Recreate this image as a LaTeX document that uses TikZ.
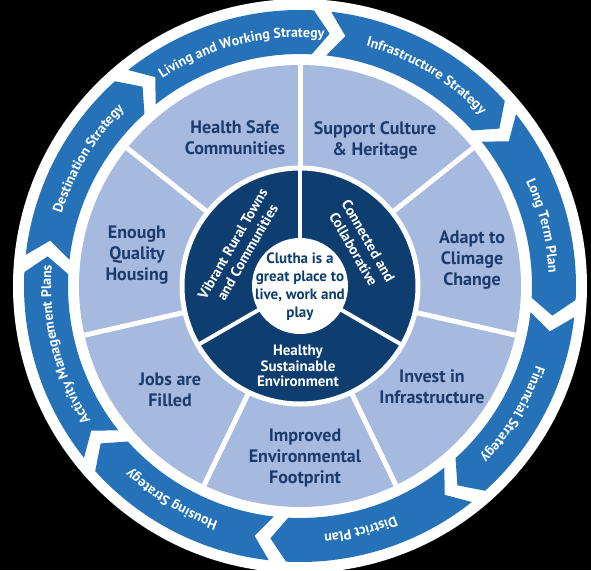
\documentclass[tikz,border=0pt]{standalone}
\usepackage{fontspec}
\setmainfont{PT Sans}
\usepackage{xcolor}
\usepackage{tikz}
\usetikzlibrary{calc, decorations.text}

\definecolor{segfill}{HTML}{A6B9DE}
\definecolor{ringfill}{HTML}{0E3E6F}
\definecolor{arrowfill}{HTML}{2672B9}
\definecolor{navytext}{HTML}{1B3B6C}
\newcommand{\arrowfont}{\color{white}\bfseries\fontsize{14}{16}\selectfont}

\begin{document}
\begin{tikzpicture}[x=1pt, y=1pt,
    segtext/.style={text=navytext, font=\bfseries\fontsize{18}{21}\selectfont, align=center},
    ringtext/.style={text=white, font=\bfseries\fontsize{14.5}{17}\selectfont, align=center},
    centretext/.style={text=ringfill, font=\bfseries\fontsize{15}{18}\selectfont, align=center}]
    \fill[black] (-300,-284) rectangle (291,286);
    \useasboundingbox (-300,-284) rectangle (291,286);
    \fill[white] (0,0) circle (287);

    % vòng mũi tên bên ngoài, chạy theo chiều kim đồng hồ
    \foreach \b/\lbl in {81.5/{Living and Working Strategy}, 36.5/{Infrastructure Strategy},
        -8.5/{Long Term Plan}, -53.5/{Financial Strategy}, -98.5/{District Plan},
        -143.5/{Housing Strategy}, -188.5/{Activity Management Plans}, 126.5/{Destination Strategy}}
    {
        \fill[arrowfill] ({\b+47}:276) arc[start angle=\b+47, end angle=\b+5.6, radius=276]
            -- ({\b+1.8}:254) -- ({\b+5.6}:232)
            arc[start angle=\b+5.6, end angle=\b+47, radius=232]
            -- ({\b+43.2}:254) -- cycle;
        \path[decorate, decoration={text along path, text align=center,
                text/.expanded={|\noexpand\arrowfont|\lbl}}]
            ({\b+42}:249) arc[start angle=\b+42, end angle=\b+3, radius=249];
    }

    % bảy ô màu nhạt
    \fill[segfill] (0,0) circle (221);
    \foreach \a in {0,...,6}
        \draw[white, line width=5] (0,0) -- ({90+\a*360/7}:221);
    \filldraw[fill=ringfill, draw=white, line width=5] (0,0) circle (118);
    \foreach \a in {90,210,330}
        \draw[white, line width=4] (0,0) -- (\a:118);
    \fill[white] (0,0) circle (48);

    \node[segtext] (health) at (-65,148) {Health Safe\\Communities};
    \node[segtext] (culture) at (75,146) {Support Culture\\\& Heritage};
    \node[segtext] (climate) at (172,26) {Adapt to\\Climage\\Change};
    \node[segtext] (housing) at (-163,31) {Enough\\Quality\\Housing};
    \node[segtext] (jobs) at (-130,-104) {Jobs are\\Filled};
    \node[segtext] (invest) at (132,-101) {Invest in\\Infrastructure};
    \node[segtext] (footprint) at (5,-172) {Improved\\Environmental\\Footprint};

    \node[ringtext, rotate=60] (vibrant) at (-60,38) {Vibrant Rural Towns\\and Communities};
    \node[ringtext, rotate=-60] (connected) at (61,41) {Connected and\\Collaborative};
    \node[ringtext, font=\bfseries\fontsize{15}{15.5}\selectfont] (healthy) at (-2,-80) {Healthy\\Sustainable\\Environment};
    \node[centretext] (clutha) at (0,-1) {Clutha is a\\great place to\\live, work and\\play};
\end{tikzpicture}
\end{document}
